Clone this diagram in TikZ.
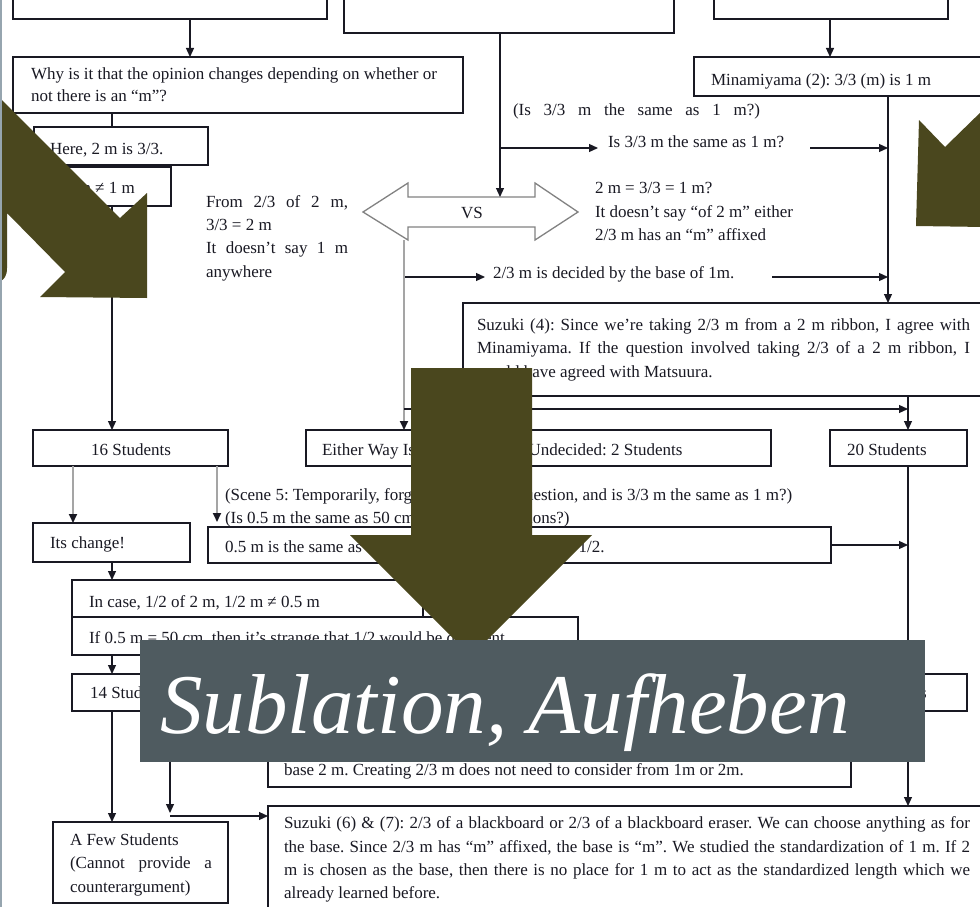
\documentclass[tikz,border=0pt]{standalone}
\usepackage{fontspec}
\setmainfont{Liberation Serif}
\usetikzlibrary{arrows.meta}
\definecolor{olivearr}{RGB}{74,71,30}
\definecolor{banner}{RGB}{79,91,96}
\definecolor{ink}{RGB}{25,25,35}
\definecolor{greyln}{RGB}{165,165,165}
\definecolor{vsgrey}{RGB}{130,130,130}
\definecolor{bord}{RGB}{150,165,175}
\newcommand\mybox[5]{\node[box,minimum width={(#4-(#2))*1pt},minimum height={(#5-(#3))*1pt}] (#1) at (#2,#3) {};}
\newcommand\jl[2]{\makebox[#1pt][s]{#2}}
\frenchspacing
\begin{document}
\begin{tikzpicture}[x=1pt,y=-1pt,
  box/.style={draw=ink, line width=1.4pt, fill=white, inner sep=0pt, outer sep=0pt, anchor=north west},
  txt/.style={inner sep=0pt, outer sep=0pt, anchor=base west, text=ink, font=\fontsize{17}{23}\selectfont},
  arr/.style={draw=ink, line width=1.2pt, -{Triangle[length=9pt,width=8pt]}},
  garr/.style={draw=greyln, line width=1.8pt, -{Triangle[length=9pt,width=8pt,color=ink]}},
  ln/.style={draw=ink, line width=1.2pt}]
\useasboundingbox (0,0) rectangle (980,907);
\begin{scope}
\clip (0,0) rectangle (980,907);
\fill[white] (0,0) rectangle (980,907);
% boxes
\mybox{boxA}{13}{-10}{327}{19}
\mybox{boxB}{344}{-10}{674}{33}
\mybox{boxC}{714}{-10}{948}{19}
\mybox{why}{13}{57}{463}{113}
\mybox{here}{34}{127}{208}{165}
\mybox{neqb}{34}{167}{171}{206}
\mybox{mina}{694}{57}{995}{96}
\mybox{suz4}{463}{303}{995}{396}
\mybox{b16}{33}{430}{228}{466}
\mybox{either}{306}{430}{771}{466}
\mybox{b20}{830}{430}{967}{466}
\mybox{chg}{33}{523}{190}{562}
\mybox{half}{208}{527}{831}{563}
\mybox{case}{72}{580}{423}{617}
\mybox{ifb}{72}{617}{578}{655}
\mybox{b14}{72}{674}{228}{711}
\mybox{b22}{830}{674}{967}{711}
\mybox{m5}{268}{725}{851}{787}
\mybox{suz6}{268}{806}{995}{925}
\mybox{few}{53}{822}{228}{903}
% VS double arrow
\draw[draw=vsgrey, line width=1.3pt, fill=white] (363,212) -- (408,183) -- (408,197) -- (535,197) -- (535,183) -- (578,212) -- (535,240) -- (535,227) -- (408,227) -- (408,240) -- cycle;
\node[txt, anchor=base] (vs) at (472,218) {VS};
% texts
\node[txt] (why1) at (31,80) {Why is it that the opinion changes depending on whether or};
\node[txt] (why2) at (31,102) {not there is an “m”?};
\node[txt] (heret) at (50,154) {Here, 2 m is 3/3.};
\node[txt] (neqt) at (65,193) {2 m ≠ 1 m};
\node[txt] (from1) at (206,207) {\jl{142}{From 2/3 of 2 m,}};
\node[txt] (from2) at (206,230) {3/3 = 2 m};
\node[txt] (from3) at (206,253) {\jl{142}{It doesn’t say 1 m}};
\node[txt] (from4) at (206,277) {anywhere};
\node[txt] (isq1) at (513,115) {\jl{247}{(Is 3/3 m the same as 1 m?)}};
\node[txt] (isq2) at (608,147) {Is 3/3 m the same as 1 m?};
\node[txt] (minat) at (711,85) {Minamiyama (2): 3/3 (m) is 1 m};
\node[txt] (eq1) at (595,193) {2 m = 3/3 = 1 m?};
\node[txt] (eq2) at (595,217) {It doesn’t say “of 2 m” either};
\node[txt] (eq3) at (595,240) {2/3 m has an “m” affixed};
\node[txt] (dec) at (493,278) {2/3 m is decided by the base of 1m.};
\node[txt] (s4a) at (477,330) {\jl{493}{Suzuki (4): Since we’re taking 2/3 m from a 2 m ribbon, I agree with}};
\node[txt] (s4b) at (477,353) {\jl{493}{Minamiyama. If the question involved taking 2/3 of a 2 m ribbon, I}};
\node[txt] (s4c) at (477,377) {would have agreed with Matsuura.};
\node[txt, anchor=base] (n16) at (131,455) {16 Students};
\node[txt] (eithert) at (322,455) {Either Way Is Fine, Different, Undecided: 2 Students};
\node[txt] (n20) at (847,455) {20 Students};
\node[txt] (sc1) at (225,500) {(Scene 5: Temporarily, forget the previous question, and is 3/3 m the same as 1 m?)};
\node[txt] (sc2) at (225,523) {(Is 0.5 m the same as 50 cm in terms of fractions?)};
\node[txt] (chgt) at (50,548) {Its change!};
\node[txt] (halft) at (225,552) {0.5 m is the same as 50 cm, but in fractions it’s still 1/2.};
\node[txt] (caset) at (89,607) {In case, 1/2 of 2 m, 1/2 m ≠ 0.5 m};
\node[txt] (ift) at (89,643) {If 0.5 m = 50 cm, then it’s strange that 1/2 would be different.};
\node[txt] (n14) at (90,698) {14 Students};
\node[txt] (n22) at (847,698) {22 Students};
\node[txt] (m5b) at (284,775) {base 2 m. Creating 2/3 m does not need to consider from 1m or 2m.};
\node[txt] (s6a) at (284,828) {\jl{686}{Suzuki (6) \& (7): 2/3 of a blackboard or 2/3 of a blackboard eraser. We can choose anything as for}};
\node[txt] (s6b) at (284,852) {\jl{686}{the base. Since 2/3 m has “m” affixed, the base is “m”. We studied the standardization of 1 m. If 2}};
\node[txt] (s6c) at (284,875) {\jl{686}{m is chosen as the base, then there is no place for 1 m to act as the standardized length which we}};
\node[txt] (s6d) at (284,898) {already learned before.};
\node[txt] (few1) at (70,845) {A Few Students};
\node[txt] (few2) at (70,868) {\jl{142}{(Cannot provide a}};
\node[txt] (few3) at (70,892) {counterargument)};
% connectors
\coordinate (x190) at (190,0);
\coordinate (x500) at (500,0);
\coordinate (x830) at (830,0);
\coordinate (x888) at (888,0);
\coordinate (x112) at (112,0);
\coordinate (x404) at (404,0);
\coordinate (x908) at (908,0);
\coordinate (x73) at (73,0);
\coordinate (x217) at (217,0);
\coordinate (x170) at (170,0);
\coordinate (vstop) at (500,197);
\coordinate (vslb) at (404,240);
\coordinate (j1) at (500,148);
\coordinate (e1) at (598,148);
\coordinate (s1) at (810,148);
\coordinate (s2) at (404,277);
\coordinate (t2) at (485,277);
\coordinate (s3) at (772,277);
\coordinate (j2) at (404,409);
\coordinate (k1) at (170,813);
\coordinate (k2) at (170,816);
\draw[arr] (boxA.south -| x190) -- (why.north -| x190);
\draw[arr] (boxB.south -| x500) -- (vstop);
\draw[arr] (j1) -- (e1);
\draw[arr] (boxC.south -| x830) -- (mina.north -| x830);
\draw[arr] (mina.south -| x888) -- (suz4.north -| x888);
\draw[arr] (s1) -- (s1 -| x888);
\draw[arr] (s2) -- (t2);
\draw[arr] (s3) -- (s3 -| x888);
\draw[ln] (why.south -| x112) -- (here.north -| x112);
\draw[arr] (neqb.south -| x112) -- (b16.north -| x112);
\draw[garr] (vslb) -- (either.north -| x404);
\draw[arr] (j2) -- (j2 -| x908);
\draw[arr] (suz4.south -| x908) -- (b20.north -| x908);
\draw[garr] (b16.south -| x73) -- (chg.north -| x73);
\draw[garr, shorten >=5pt] (b16.south -| x217) -- (half.north -| x217);
\draw[arr] (half.east) -- (half.east -| x908);
\draw[arr] (b20.south -| x908) -- (b22.north -| x908);
\draw[arr] (b22.south -| x908) -- (suz6.north -| x908);
\draw[arr] (chg.south -| x112) -- (case.north -| x112);
\draw[arr] (ifb.south -| x112) -- (b14.north -| x112);
\draw[arr] (b14.south -| x112) -- (few.north -| x112);
\draw[arr] (b14.south -| x170) -- (k1);
\draw[arr] (k2) -- (k2 -| suz6.west);
% olive arrows
\fill[olivearr] (0,98) -- (120,218) -- (147,193) -- (147,298) -- (40,297) -- (65,272) -- (7,213) -- (7,268) .. controls (7,276) and (4,280) .. (0,281) -- cycle;
\fill[olivearr] (919,120) -- (945,147) -- (985,108) -- (985,227) -- (916,226) -- cycle;
\fill[olivearr] (411,368) -- (532,368) -- (532,535) -- (592,535) -- (471,656) -- (350,535) -- (411,535) -- cycle;
% banner
\node[fill=banner, inner sep=0pt, outer sep=0pt, minimum width=785pt, minimum height=122pt, anchor=north west] (ban) at (140,640) {};
\node[anchor=base west, inner sep=0pt, text=white, font=\fontsize{85}{90}\selectfont\itshape] (title) at (160,733) {Sublation, Aufheben};
% left border
\draw[bord, line width=2pt] (1,0) -- (1,907);
\end{scope}
\end{tikzpicture}
\end{document}
